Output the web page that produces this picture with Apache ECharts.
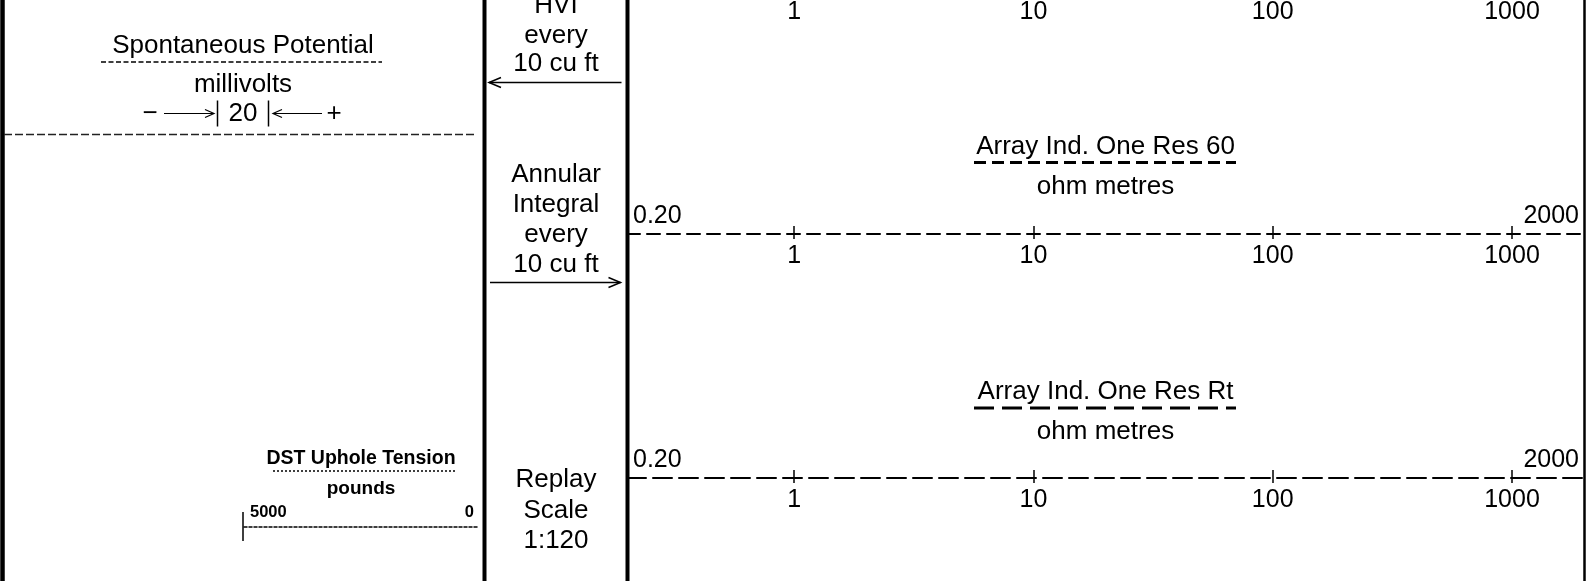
<!DOCTYPE html>
<html>
<head>
<meta charset="utf-8">
<script src="https://cdn.jsdelivr.net/npm/echarts@6/dist/echarts.min.js"></script>
<style>
  html, body { margin: 0; padding: 0; background: #fff; }
  #main { width: 1586px; height: 581px; }
</style>
</head>
<body>
<div id="main"></div>
<script>
// Resistivity scale (logarithmic, ohm metres)
const resMin = 0.2;
const resMax = 2000;
const resTickValues = [1, 10, 100, 1000];
const resTickLabels = ['1', '10', '100', '1000'];
const resEndLabels = ['0.20', '2000'];

// DST uphole tension scale (pounds, decreasing to the right)
const dstMin = 0;
const dstMax = 5000;
const dstEndLabels = ['5000', '0'];

// Curve headers
const resCurves = ['Array Ind. One Res 60', 'Array Ind. One Res Rt'];
const resUnit = 'ohm metres';
const spTitle = 'Spontaneous Potential';
const spUnit = 'millivolts';
const spScaleLabels = ['\u2212', '20', '+'];
const dstTitle = 'DST Uphole Tension';
const dstUnit = 'pounds';
const hviLines = ['HVI', 'every', '10 cu ft'];
const annularLines = ['Annular', 'Integral', 'every', '10 cu ft'];
const replayLines = ['Replay', 'Scale', '1:120'];

const FONT = '"Liberation Sans", Arial, Helvetica, sans-serif';
const chart = echarts.init(document.getElementById('main'), null, { renderer: 'canvas' });

// label text for a decade value (value may arrive raw or as its log)
function decadeLabel(v) {
  for (let i = 0; i < resTickValues.length; i++) {
    const lt = Math.log10(resTickValues[i]);
    if (Math.abs(lt - Math.log10(v)) < 1e-6 || Math.abs(lt - v) < 1e-6) return resTickLabels[i];
  }
  return '';
}

// ---- grids: one per scale line ----
const resAxisY = [-10, 234, 478];          // partial scale above, then Res 60, Res Rt
const resDash = [[13, 7], [13, 7], [19, 7]];
const grids = [];
const xAxes = [];
const yAxes = [];

resAxisY.forEach((y, gi) => {
  grids.push({ left: 627, right: 2, top: y - 20, height: 20, containLabel: false, outerBoundsMode: 'none' });
  yAxes.push({ type: 'value', gridIndex: gi, show: false, min: 0, max: 1 });
  const base = {
    type: 'log', logBase: 10, min: resMin, max: resMax, gridIndex: gi,
    position: 'bottom', splitLine: { show: false }, silent: true
  };
  const labelBase = { color: '#000', fontSize: 25, fontFamily: FONT };
  // main line, upward ticks, decade labels below
  xAxes.push(Object.assign({}, base, {
    axisLine: { show: true, lineStyle: { color: '#000', width: 2, type: resDash[gi] } },
    axisTick: { show: true, inside: true, length: 8, customValues: resTickValues,
      lineStyle: { color: '#000', width: 1.5 } },
    axisLabel: Object.assign({}, labelBase, { show: true, margin: 10, customValues: resTickValues,
      formatter: decadeLabel })
  }));
  // downward part of the decade ticks
  xAxes.push(Object.assign({}, base, {
    axisLine: { show: false },
    axisTick: { show: true, inside: false, length: 5, customValues: resTickValues,
      lineStyle: { color: '#000', width: 1.5 } },
    axisLabel: { show: false }
  }));
  if (gi > 0) {
    // left end value above the line
    xAxes.push(Object.assign({}, base, {
      axisLine: { show: false }, axisTick: { show: false },
      axisLabel: Object.assign({}, labelBase, { show: true, inside: true, margin: 5, align: 'left',
        padding: [0, 0, 0, 6], customValues: [resMin], formatter: () => resEndLabels[0] })
    }));
    // right end value above the line
    xAxes.push(Object.assign({}, base, {
      axisLine: { show: false }, axisTick: { show: false },
      axisLabel: Object.assign({}, labelBase, { show: true, inside: true, margin: 5, align: 'right',
        padding: [0, 5, 0, 0], customValues: [resMax], formatter: () => resEndLabels[1] })
    }));
  }
});

// DST tension scale
const dstGi = grids.length;
const dstAxisY = 527;
grids.push({ left: 243, right: 1586 - 477, top: dstAxisY - 20, height: 20, containLabel: false, outerBoundsMode: 'none' });
yAxes.push({ type: 'value', gridIndex: dstGi, show: false, min: 0, max: 1 });
const dstBase = { type: 'value', min: dstMin, max: dstMax, inverse: true, gridIndex: dstGi,
  position: 'bottom', splitLine: { show: false }, silent: true };
const dstLabel = { color: '#000', fontSize: 16.5, fontWeight: 'bold', fontFamily: FONT };
xAxes.push(Object.assign({}, dstBase, {
  axisLine: { show: true, lineStyle: { color: '#000', width: 1.5, type: [3, 2] } },
  axisTick: { show: true, inside: true, length: 15, customValues: [dstMax], lineStyle: { color: '#000', width: 1.5 } },
  axisLabel: Object.assign({}, dstLabel, { show: true, inside: true, margin: 6, align: 'left',
    padding: [0, 0, 0, 7], customValues: [dstMax], formatter: () => dstEndLabels[0] })
}));
xAxes.push(Object.assign({}, dstBase, {
  axisLine: { show: false },
  axisTick: { show: true, inside: false, length: 14, customValues: [dstMax], lineStyle: { color: '#000', width: 1.5 } },
  axisLabel: Object.assign({}, dstLabel, { show: true, inside: true, margin: 6, align: 'right',
    padding: [0, 3, 0, 0], customValues: [dstMin], formatter: () => dstEndLabels[1] })
}));

// ---- header decorations ----
const TEXT_DY = 2.5;
function text(x, y, str, size, bold) {
  return {
    type: 'text', silent: true, z: 10,
    style: { x: x, y: y + TEXT_DY, text: str, fill: '#000', fontSize: size, fontFamily: FONT,
      fontWeight: bold ? 'bold' : 'normal', align: 'center', verticalAlign: 'middle' }
  };
}
function line(x1, y1, x2, y2, width, dash, color) {
  return {
    type: 'line', silent: true, z: 5,
    shape: { x1: x1, y1: y1, x2: x2, y2: y2 },
    style: { stroke: color || '#000', lineWidth: width, lineDash: dash || null }
  };
}
function head(points, width) {
  return { type: 'polyline', silent: true, z: 5, shape: { points: points },
    style: { stroke: '#000', lineWidth: width, fill: null } };
}

const H = 581;
const g = [];
// track borders
g.push(line(2.5, 0, 2.5, H, 4.5));
g.push(line(484.5, 0, 484.5, H, 4));
g.push(line(627.5, 0, 627.5, H, 4));
g.push(line(1584.5, 0, 1584.5, H, 2.5));

// spontaneous potential header
g.push(text(243, 43.5, spTitle, 26));
g.push(line(101, 62, 382, 62, 1.5, [5, 2.5]));
g.push(text(243, 82.5, spUnit, 26));
const spY = 113.5;
g.push(text(150, spY - 2.5, spScaleLabels[0], 26));
g.push(line(164, spY, 214, spY, 1.2));
g.push(head([[205, spY - 4], [214, spY], [205, spY + 4]], 1.2));
g.push(line(217.5, 100.5, 217.5, 126.5, 1.5));
g.push(text(243, spY - 2.5, spScaleLabels[1], 26));
g.push(line(268.5, 100.5, 268.5, 126.5, 1.5));
g.push(line(273, spY, 322, spY, 1.2));
g.push(head([[282, spY - 4], [273, spY], [282, spY + 4]], 1.2));
g.push(text(334, spY - 2.5, spScaleLabels[2], 26));
g.push(line(4, 134.5, 477, 134.5, 1.5, [8, 3], '#222'));

// DST uphole tension header
g.push(text(361, 456, dstTitle, 19.5, true));
g.push(line(273, 471, 455, 471, 1.5, [2, 2]));
g.push(text(361, 486.5, dstUnit, 19, true));

// depth column texts and flags
const midX = 556;
[3.5, 33, 61].forEach((y, i) => g.push(text(midX, y, hviLines[i], 26)));
g.push(line(489, 82.5, 621.5, 82.5, 1.5));
g.push(head([[501, 77.5], [489, 82.5], [501, 87.5]], 1.5));
[172, 202, 232, 262].forEach((y, i) => g.push(text(midX, y, annularLines[i], 26)));
g.push(line(490, 282.5, 620.5, 282.5, 1.5));
g.push(head([[608.5, 277.5], [620.5, 282.5], [608.5, 287.5]], 1.5));
[477.5, 508, 538.5].forEach((y, i) => g.push(text(midX, y, replayLines[i], 26)));

// resistivity curve headers
const resX = 1105.5;
const titleY = [144, 389.5];
const ulDash = [[12, 6], [20, 8]];
resCurves.forEach((name, i) => {
  g.push(text(resX, titleY[i], name, 26));
  g.push(line(974, titleY[i] + 18.5, 1236, titleY[i] + 18.5, 3, ulDash[i]));
  g.push(text(resX, titleY[i] + 40, resUnit, 26));
});

chart.setOption({
  backgroundColor: '#fff',
  animation: false,
  grid: grids,
  xAxis: xAxes,
  yAxis: yAxes,
  series: [],
  graphic: { elements: g }
});
</script>
</body>
</html>
